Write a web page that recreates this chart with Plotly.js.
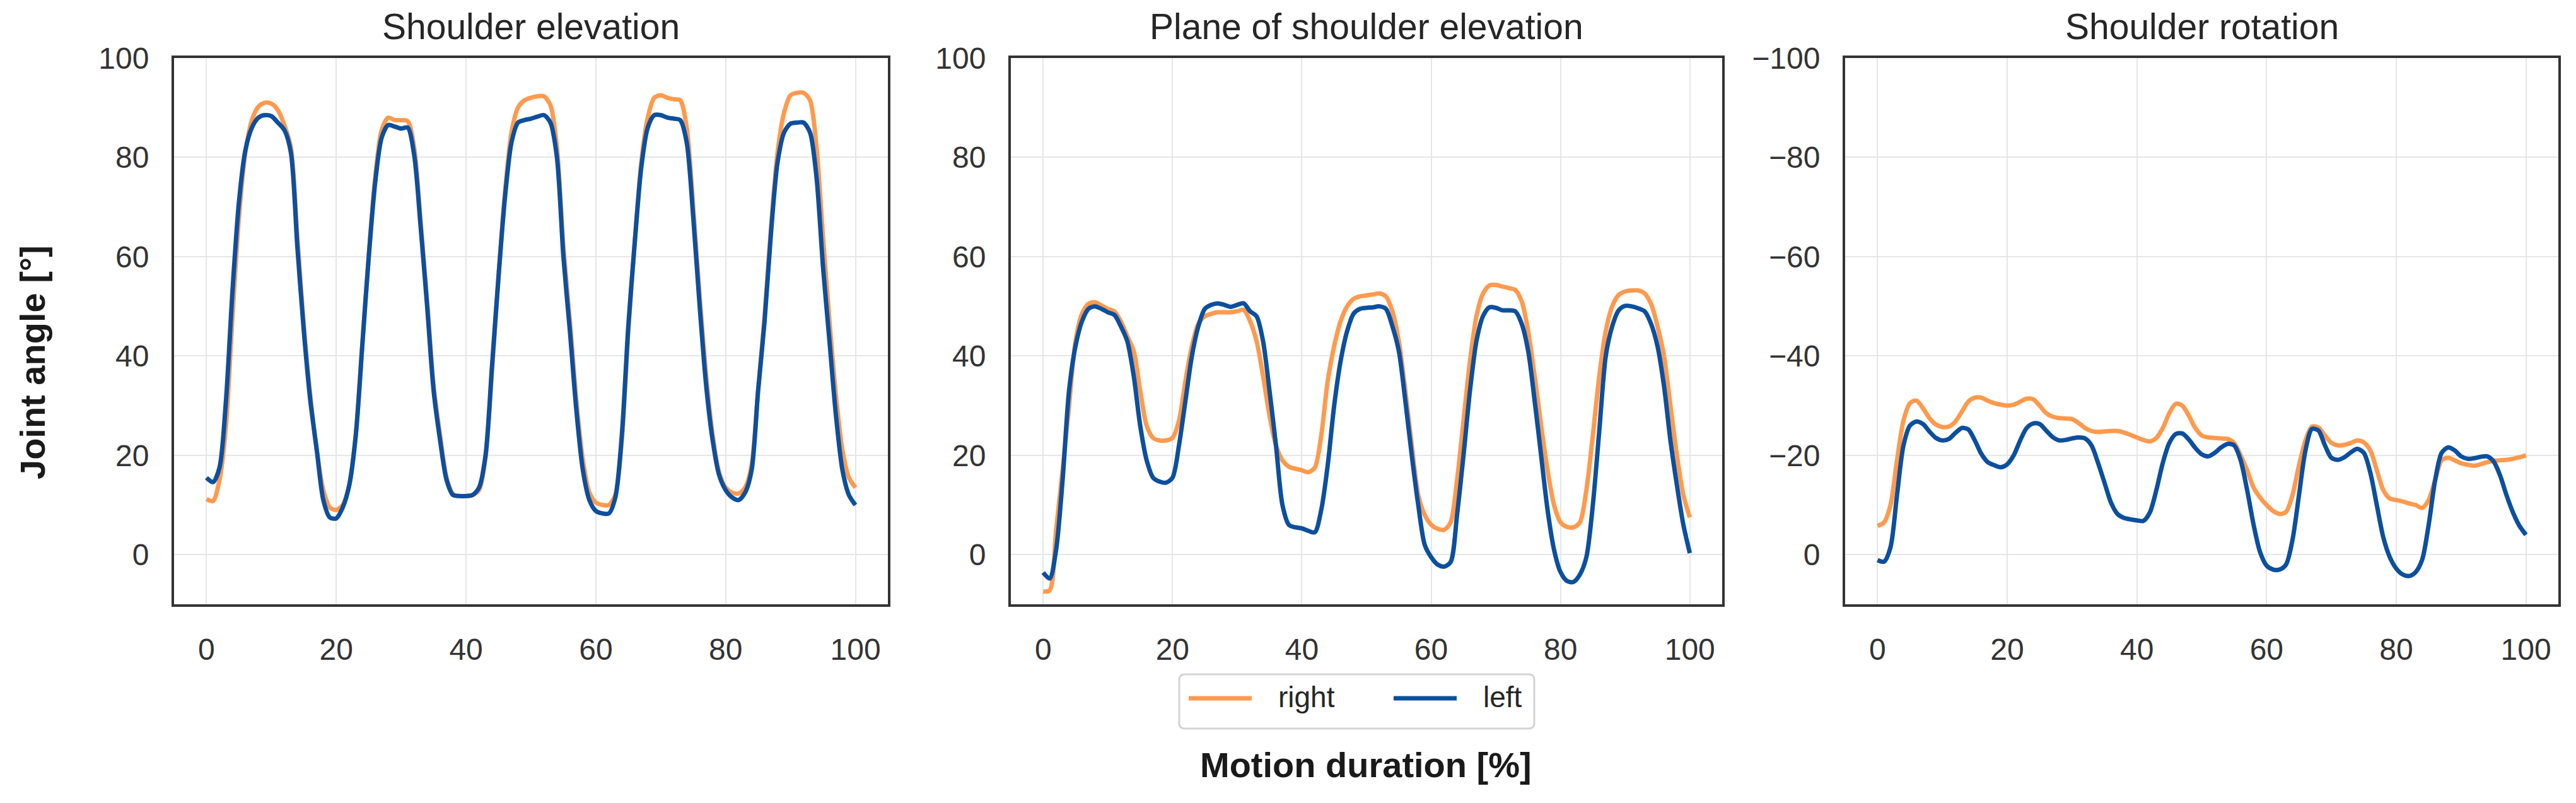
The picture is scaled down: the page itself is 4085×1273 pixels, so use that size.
<!DOCTYPE html>
<html>
<head>
<meta charset="utf-8">
<script src="https://cdn.plot.ly/plotly-3.0.1.min.js"></script>
<style>
  html, body { margin: 0; padding: 0; background: #fff; }
  #chart { width: 4085px; height: 1273px; }
</style>
</head>
<body>
<div id="chart"></div>
<script>
// motion duration samples [%]
const pct = [0,1,2,3,4,5,6,7,8,9,10,11,12,13,14,15,16,17,18,19,20,21,22,23,24,25,26,27,28,29,30,
  31,32,33,34,35,36,37,38,39,40,41,42,43,44,45,46,47,48,49,50,51,52,53,54,55,56,57,58,59,60,
  61,62,63,64,65,66,67,68,69,70,71,72,73,74,75,76,77,78,79,80,81,82,83,84,85,86,87,88,89,90,
  91,92,93,94,95,96,97,98,99,100];

const panelTitles = ['Shoulder elevation', 'Plane of shoulder elevation', 'Shoulder rotation'];
const sideNames = ['right', 'left'];
const xTicks = [0, 20, 40, 60, 80, 100];
const yTicks = [-100, -80, -60, -40, -20, 0, 20, 40, 60, 80, 100];

// Shoulder elevation [deg]
const elevRight = [11.2,10.8,15,26,48,68,81,87.5,90.2,91,90.8,89.5,86.5,82,64,46,32,21,13,9.5,
  9,10,14,24,42,60,76,85.5,88,87.5,87.5,87.3,82,67,51,34,24,15.5,12.2,11.8,
  11.8,12,13,19.5,37,56,73,85,90,91.5,92,92.3,92.3,90.5,82,62,47,31,19,12.5,
  10.5,10,10,12,23,45,63,79,88,92,92.5,92,91.7,91.5,86,70,52,36,24,16.5,
  13.5,12.5,12.3,13.5,18,33,48,66,81,89,92.5,93,93,91.5,82,64,47,32,21,15.5,13.5];
const elevLeft = [15.5,14.6,17.5,31,53,71,81.5,86,88,88.5,88.3,87,85.5,81,62,45,31,21,11,7.5,
  7.3,9.5,14,24,42,60,75,84,86.5,86.2,85.8,86,80.5,66,50,33,23,15,12,11.8,
  11.8,12,13.5,20,38,56,72,83,87,87.5,87.8,88.2,88.5,87,80,60,45,29,17,11,
  8.8,8.3,8.3,11.5,24,46,63,78,86,88.5,88.5,88,87.8,87.5,83,68,50,34,23,16,
  13,11.5,11,12.5,17,33,47,65,79,85,86.8,87,87,85,76,58,43,28,17,12,10];

// Plane of shoulder elevation [deg]
const planeRight = [-7.4,-7.2,5,17,30,43,48.5,50.5,50.8,50.2,49.5,49,47,44,41,33,26,23.5,23,23,
  23.5,27,35,42,46.5,48,48.5,48.8,48.8,48.8,49,49.3,47,43,36,28,22,19,17.7,17.3,
  17,16.6,17.5,24,35,42,47,50,51.5,52,52.2,52.4,52.6,52,49,43,33,22,12,8,
  6,5.2,5,6.5,15,27,39,48,52.5,54.2,54.3,54,53.7,53.3,51,45,36,26,17,10,
  6.5,5.6,5.5,6.5,13,24,36,45,50,52.3,53,53.2,53.2,52.6,50.5,46,40,30,20,12,7.5];
const planeLeft = [-3.6,-4.8,1,15,33,42,47,49.5,50,49.5,48.8,48.3,46,43,36,26,19,15.5,14.7,14.5,
  15.5,22,31,40,46,49.5,50.3,50.6,50.3,49.9,50.3,50.6,49,48,43,33,22,10,6,5.5,
  5.3,4.8,4.5,9,18,30,39,45,48.5,49.5,49.7,49.8,50,49.5,46,41,31,20,10,2,
  -0.5,-2,-2.4,-1.5,8,20,33,43,48,49.8,49.7,49.2,49.2,49,46.5,41,31,20,9,1,
  -3.5,-5.3,-5.5,-4,-0.5,10,25,40,46,49.2,50.1,50,49.6,49,46.5,42,34,23,14,6,0.3];

// Shoulder rotation [deg]
const rotRight = [-5.8,-6.5,-10,-19,-27,-30.5,-31,-29.5,-27.5,-26.2,-25.7,-25.8,-26.8,-28.8,-30.8,-31.6,-31.6,-31,-30.5,-30.2,
  -30,-30.2,-30.8,-31.4,-31.3,-30,-28.5,-27.8,-27.5,-27.4,-27.3,-26.5,-25.5,-24.9,-24.7,-24.8,-24.9,-24.9,-24.6,-24.1,
  -23.6,-23.1,-22.8,-23.5,-25.5,-28.5,-30.4,-30,-28,-25.5,-24,-23.6,-23.5,-23.4,-23.3,-22.5,-20,-17,-13.5,-11.5,
  -10,-8.8,-8.2,-8.6,-12,-18,-23,-25.8,-25.6,-24,-22.5,-22,-22.1,-22.5,-23,-22.6,-21,-17,-13,-11.3,
  -11,-10.7,-10.3,-10,-9.4,-11,-15,-19,-19.5,-19,-18.4,-18.1,-17.9,-18.2,-18.6,-18.9,-19,-19.1,-19.3,-19.6,-20];
const rotLeft = [1.1,1.4,-1.5,-12,-22,-26,-26.8,-26.3,-24.8,-23.5,-23,-23.3,-24.5,-25.5,-25.2,-23,-20.3,-18.6,-18,-17.6,
  -18.2,-20,-23,-25.5,-26.4,-26.3,-25,-23.7,-23,-23.1,-23.4,-23.6,-23.4,-22,-18.5,-14.5,-10.5,-8.2,-7.4,-7.1,
  -6.9,-6.8,-8.5,-13,-18.5,-22.5,-24.3,-24.4,-23.2,-21.5,-20.2,-19.8,-20.5,-21.6,-22.3,-22,-19,-13,-6,-0.5,
  2.2,3,3,2,-3,-12,-21,-25.3,-25,-22,-19.5,-19.1,-19.6,-20.6,-21.3,-20.5,-16.5,-10,-3.5,0.5,
  2.8,4,4.3,3.5,1,-6,-15,-20.5,-21.6,-21,-19.8,-19.3,-19.4,-19.7,-19.8,-18.8,-16,-12,-8.5,-5.8,-4];

const colors = { right: '#fe9a4e', left: '#0c4f9e' };
const W = 4085, H = 1273;
const FONT = 'Liberation Sans, Arial, Helvetica, sans-serif';

// pixel frame of each panel
const panelsPx = [
  { left: 276, right: 1408 },
  { left: 1603, right: 2731 },
  { left: 2926, right: 4057 }
];
const plotTop = 92, plotBottom = 958;

const px = v => v / W;
const py = v => 1 - v / H;

function lineTrace(x, y, name, axisIdx) {
  const s = axisIdx === 1 ? '' : String(axisIdx);
  return {
    x: x, y: y, name: name, type: 'scatter', mode: 'lines',
    xaxis: 'x' + s, yaxis: 'y' + s, showlegend: false,
    line: { color: colors[name], width: 7, shape: 'spline', smoothing: 0.8 }
  };
}

function axisBase() {
  return {
    showline: true, mirror: true, linecolor: '#333333', linewidth: 4,
    showgrid: true, gridcolor: '#e6e6e6', gridwidth: 2,
    zeroline: false, ticks: '', ticklabelstandoff: 26,
    tickfont: { family: FONT, size: 48, color: '#333333' }
  };
}

const data = [
  lineTrace(pct, elevRight, sideNames[0], 1),
  lineTrace(pct, elevLeft, sideNames[1], 1),
  lineTrace(pct, planeRight, sideNames[0], 2),
  lineTrace(pct, planeLeft, sideNames[1], 2),
  lineTrace(pct, rotRight, sideNames[0], 3),
  lineTrace(pct, rotLeft, sideNames[1], 3)
];

const layout = {
  width: W, height: H,
  margin: { l: 0, r: 0, t: 0, b: 0 },
  paper_bgcolor: '#ffffff', plot_bgcolor: '#ffffff',
  showlegend: false,
  annotations: [], shapes: []
};

const yDomain = [py(plotBottom), py(plotTop)];
const yRanges = [[-10, 100], [-10, 100], [10, -100]];

panelsPx.forEach((p, i) => {
  const s = i === 0 ? '' : String(i + 1);
  layout['xaxis' + s] = Object.assign(axisBase(), {
    domain: [px(p.left), px(p.right)], anchor: 'y' + s,
    range: [-5, 105], tickvals: xTicks
  });
  layout['yaxis' + s] = Object.assign(axisBase(), {
    domain: yDomain, anchor: 'x' + s,
    range: yRanges[i], tickvals: yTicks
  });
  layout.annotations.push({
    text: panelTitles[i], xref: 'paper', yref: 'paper',
    x: px((p.left + p.right) / 2), y: py(42), xanchor: 'center', yanchor: 'middle',
    showarrow: false, font: { family: FONT, size: 57, color: '#262626' }
  });
});

// shared axis titles
layout.annotations.push({
  text: 'Joint angle [°]', xref: 'paper', yref: 'paper',
  x: px(51), y: py(575), xanchor: 'center', yanchor: 'middle', textangle: -90,
  showarrow: false, font: { family: FONT, size: 56, color: '#1a1a1a', weight: 'bold' }
});
layout.annotations.push({
  text: 'Motion duration [%]', xref: 'paper', yref: 'paper',
  x: px(2166), y: py(1212), xanchor: 'center', yanchor: 'middle',
  showarrow: false, font: { family: FONT, size: 56, color: '#1a1a1a', weight: 'bold' }
});

// legend box under the middle panel
const lg = { x0: 1870, x1: 2433, y0: 1069, y1: 1155, r: 9, mid: 1107 };
const rx = lg.r / W, ry = lg.r / H;
const bx0 = px(lg.x0), bx1 = px(lg.x1), by0 = py(lg.y1), by1 = py(lg.y0);
layout.shapes.push({
  type: 'path', xref: 'paper', yref: 'paper',
  path: `M${bx0 + rx},${by0} L${bx1 - rx},${by0} Q${bx1},${by0} ${bx1},${by0 + ry} ` +
        `L${bx1},${by1 - ry} Q${bx1},${by1} ${bx1 - rx},${by1} L${bx0 + rx},${by1} ` +
        `Q${bx0},${by1} ${bx0},${by1 - ry} L${bx0},${by0 + ry} Q${bx0},${by0} ${bx0 + rx},${by0} Z`,
  line: { color: '#d4d4d4', width: 3 }, fillcolor: '#ffffff'
});
const legendItems = [
  { name: sideNames[0], lx0: 1885, lx1: 1985, tx: 2025 },
  { name: sideNames[1], lx0: 2210, lx1: 2310, tx: 2350 }
];
legendItems.forEach(it => {
  layout.shapes.push({
    type: 'line', xref: 'paper', yref: 'paper',
    x0: px(it.lx0), x1: px(it.lx1), y0: py(lg.mid), y1: py(lg.mid),
    line: { color: colors[it.name], width: 7 }
  });
  layout.annotations.push({
    text: it.name, xref: 'paper', yref: 'paper',
    x: px(it.tx), y: py(lg.mid - 2), xanchor: 'left', yanchor: 'middle',
    showarrow: false, font: { family: FONT, size: 46, color: '#262626' }
  });
});

Plotly.newPlot('chart', data, layout, { displayModeBar: false, staticPlot: true });
</script>
</body>
</html>
